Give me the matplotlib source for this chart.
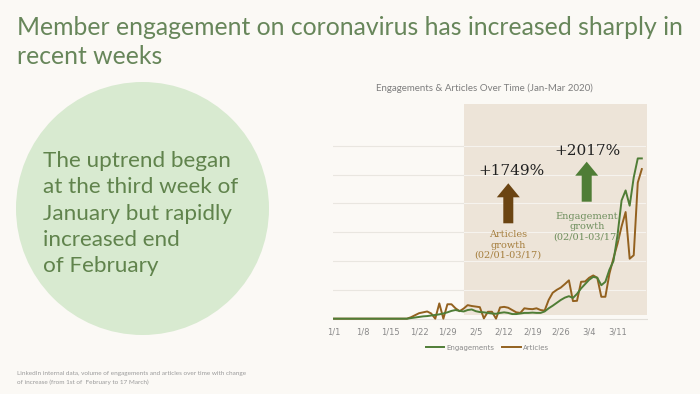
import matplotlib
matplotlib.use('Agg')
import matplotlib.pyplot as plt
from matplotlib.patches import Ellipse, FancyArrow, Rectangle
import numpy as np

# daily values from 1/1 to 3/17 (2020), in gridline units
engagements = [
    0, 0, 0, 0, 0, 0, 0, 0, 0, 0, 0, 0, 0, 0, 0, 0, 0, 0, 0,
    0.02, 0.04, 0.06, 0.08, 0.09, 0.11, 0.13, 0.15, 0.18, 0.22, 0.27,
    0.30, 0.27, 0.25, 0.30, 0.32, 0.26, 0.23, 0.22, 0.20, 0.18,
    0.17, 0.20, 0.22, 0.20, 0.16, 0.16, 0.18, 0.20, 0.20, 0.21,
    0.20, 0.20, 0.25, 0.36, 0.45, 0.55, 0.65, 0.73, 0.78, 0.72,
    0.86, 1.05, 1.20, 1.35, 1.45, 1.42, 1.16, 1.28, 1.70, 2.00,
    2.90, 4.10, 4.45, 3.92, 4.90, 5.56, 5.56,
]
articles = [
    0, 0, 0, 0, 0, 0, 0, 0, 0, 0, 0, 0, 0, 0, 0, 0, 0, 0, 0,
    0.05, 0.12, 0.19, 0.22, 0.25, 0.18, 0.00, 0.53, 0.00, 0.50, 0.50,
    0.36, 0.26, 0.35, 0.47, 0.44, 0.42, 0.40, 0.01, 0.24, 0.24,
    0.00, 0.39, 0.41, 0.38, 0.30, 0.22, 0.20, 0.36, 0.34, 0.33,
    0.36, 0.30, 0.28, 0.65, 0.90, 1.00, 1.08, 1.20, 1.33, 0.61,
    0.62, 1.28, 1.29, 1.42, 1.50, 1.42, 0.76, 0.76, 1.56, 2.10,
    2.60, 3.20, 3.70, 2.08, 2.20, 4.72, 5.19,
]
tick_labels = ['1/1', '1/8', '1/15', '1/22', '1/29', '2/5', '2/12', '2/19', '2/26', '3/4', '3/11']
tick_days = [0, 7, 14, 21, 28, 35, 42, 49, 56, 63, 70]
highlight_start, highlight_end = 32.1, 77.2

BG = '#FBF9F5'
GREEN = '#4F7D36'
BROWN = '#93611F'
TITLE_GREEN = '#67865A'
W, H = 700, 394
XMIN, XMAX = -0.3, 77.6


def fx(px):
    return px / W


def fy(py):
    return (H - py) / H


fig = plt.figure(figsize=(7, 3.94), dpi=100, facecolor=BG)

# headline
fig.text(fx(17), fy(35), 'Member engagement on coronavirus has increased sharply in',
         fontsize=17.8, color=TITLE_GREEN, family='Lato', va='baseline')
fig.text(fx(17), fy(63.5), 'recent weeks',
         fontsize=17.8, color=TITLE_GREEN, family='Lato', va='baseline')

# green circle with the takeaway
fig.patches.append(Ellipse((fx(142.5), fy(208.5)), 253 / W, 253 / H,
                           transform=fig.transFigure, facecolor='#D8EAD0', edgecolor='none'))
circle_lines = ['The uptrend began', 'at the third week of', 'January but rapidly',
                'increased end', 'of February']
for i, line in enumerate(circle_lines):
    fig.text(fx(43), fy(167.3 + i * 26.1), line, fontsize=16.2, color='#60834C',
             family='Lato', va='baseline')

# chart
ax = fig.add_axes([fx(332.8), fy(323), fx(648.3 - 332.8), (323 - 102.5) / H])
ax.set_facecolor('none')
days = np.arange(len(engagements))
ax.add_patch(Rectangle((highlight_start, 0.13), highlight_end - highlight_start, 7.45 - 0.13,
                       facecolor='#EDE4D8', edgecolor='none', zorder=0))
split = (highlight_start - XMIN) / (XMAX - XMIN)
for g in range(1, 7):
    ax.axhline(g, xmin=0, xmax=split, color='#E9E6E0', lw=0.8, zorder=1)
    ax.axhline(g, xmin=split, xmax=0.99, color='#F6F3EE', lw=0.8, zorder=1)
ax.axhline(0, color='#E2DFD9', lw=0.8, zorder=1)
ax.plot(days, engagements, color=GREEN, lw=1.4, label='Engagements', zorder=3)
ax.plot(days, articles, color=BROWN, lw=1.4, label='Articles', zorder=2)
ax.set_xlim(XMIN, XMAX)
ax.set_ylim(-0.15, 7.5)
ax.set_xticks(tick_days)
ax.set_xticklabels(tick_labels)
ax.set_yticks([])
ax.tick_params(axis='x', length=0, labelsize=6, labelcolor='#8A8A8A', pad=3)
for s in ax.spines.values():
    s.set_visible(False)
leg = ax.legend(loc='upper center', bbox_to_anchor=(0.49, -0.07), ncol=2, frameon=False,
                fontsize=5, handlelength=2.6, columnspacing=1.2, handletextpad=0.3)
for t in leg.get_texts():
    t.set_color('#8A8A8A')

fig.text(fx(484), fy(88), 'Engagements & Articles Over Time (Jan-Mar 2020)',
         fontsize=7, color='#7E7E7E', family='Lato', ha='center', va='center')

# growth callouts
fig.text(fx(511), fy(171.5), '+1749%', fontsize=11, color='#222222', family='DejaVu Serif',
         ha='center', va='center')
fig.patches.append(FancyArrow(fx(508.3), fy(223.3), 0, fy(183.3) - fy(223.3),
                              width=10 / W, head_width=23 / W, head_length=14 / H,
                              length_includes_head=True, transform=fig.transFigure,
                              facecolor='#6B4412', edgecolor='none'))
fig.text(fx(508), fy(245), 'Articles\ngrowth\n(02/01-03/17)', fontsize=7, color='#A67F3E',
         family='DejaVu Serif', ha='center', va='center', linespacing=1.2)

fig.text(fx(588), fy(151), '+2017%', fontsize=11, color='#222222', family='DejaVu Serif',
         ha='center', va='center')
fig.patches.append(FancyArrow(fx(586.7), fy(201.7), 0, fy(161.7) - fy(201.7),
                              width=10 / W, head_width=23 / W, head_length=14 / H,
                              length_includes_head=True, transform=fig.transFigure,
                              facecolor=GREEN, edgecolor='none'))
fig.text(fx(586.7), fy(226.5), 'Engagement\ngrowth\n(02/01-03/17)', fontsize=7, color='#6F8F5E',
         family='DejaVu Serif', ha='center', va='center', linespacing=1.2)

# footnote
fig.text(fx(17), fy(375), 'LinkedIn internal data, volume of engagements and articles over time with change',
         fontsize=4.6, color='#9A9A9A', family='Lato', va='baseline')
fig.text(fx(17), fy(384.3), 'of increase (from 1st of  February to 17 March)',
         fontsize=4.6, color='#9A9A9A', family='Lato', va='baseline')

fig.savefig('out.png', dpi=100, facecolor=BG)
